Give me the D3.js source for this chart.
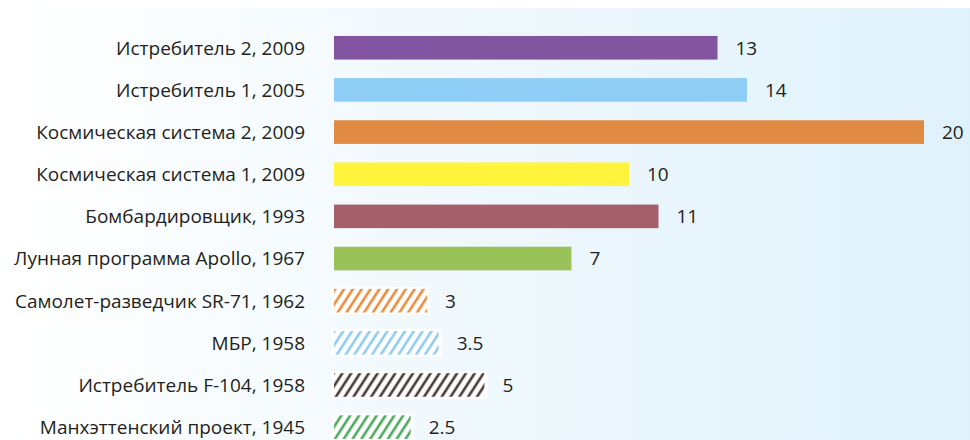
<!DOCTYPE html>
<html>
<head>
<meta charset="utf-8">
<script src="https://cdn.jsdelivr.net/npm/d3@7"></script>
<style>
  html, body { margin: 0; padding: 0; background: #fff; }
  svg { display: block; }
</style>
</head>
<body>
<div id="chart"></div>
<script>
// data, top to bottom
var categories = ['Истребитель 2, 2009', 'Истребитель 1, 2005', 'Космическая система 2, 2009',
                  'Космическая система 1, 2009', 'Бомбардировщик, 1993', 'Лунная программа Apollo, 1967',
                  'Самолет-разведчик SR-71, 1962', 'МБР, 1958', 'Истребитель F-104, 1958', 'Манхэттенский проект, 1945'];
var values = [13, 14, 20, 10, 11, 8.05, 3.15, 3.55, 5.1, 2.6];   // bar lengths as drawn
var valueLabels = ['13', '14', '20', '10', '11', '7', '3', '3.5', '5', '2.5'];
var hatched = [false, false, false, false, false, false, true, true, true, true];
var colors = ['#8354a0', '#8ecdf5', '#e08a43', '#fff33b', '#a45f6b', '#99c359',
              '#e98b3b', '#8ecbf0', '#4b3a34', '#4aa95a'];

var width = 970, height = 440;
var x0 = 334;

var svg = d3.select('#chart').append('svg')
    .attr('width', width)
    .attr('height', height);

var defs = svg.append('defs');

var grad = defs.append('linearGradient')
    .attr('id', 'bg')
    .attr('x1', '0%').attr('x2', '100%').attr('y1', '0%').attr('y2', '0%');
grad.append('stop').attr('offset', '0%').attr('stop-color', '#ffffff');
grad.append('stop').attr('offset', '100%').attr('stop-color', '#dff1fb');

svg.append('rect')
    .attr('x', 0).attr('y', 8)
    .attr('width', width).attr('height', height - 8)
    .attr('fill', 'url(#bg)');

// hatch patterns for the old programs
categories.forEach(function(c, i) {
    if (!hatched[i]) return;
    var p = defs.append('pattern')
        .attr('id', 'hatch' + i)
        .attr('patternUnits', 'userSpaceOnUse')
        .attr('width', 7.4).attr('height', 10)
        .attr('patternTransform', 'rotate(33)');
    p.append('rect').attr('width', 7.4).attr('height', 10).attr('fill', '#fff');
    p.append('line')
        .attr('x1', 2).attr('x2', 2).attr('y1', 0).attr('y2', 10)
        .attr('stroke', colors[i])
        .attr('stroke-width', 2.6);
});

var xScale = d3.scaleLinear()
    .domain([0, 20])
    .range([x0, 924]);

var yScale = d3.scaleBand()
    .domain(categories)
    .range([26.7, 448.2])
    .paddingInner(0.44)
    .paddingOuter(0.22);

var rows = svg.selectAll('.row')
    .data(categories)
    .enter().append('g')
    .attr('class', 'row');

// white box behind hatched bars
rows.filter(function(d, i) { return hatched[i]; })
    .append('rect')
    .attr('x', x0 - 3)
    .attr('y', function(d) { return yScale(d) - 2; })
    .attr('width', function(d) { return xScale(values[categories.indexOf(d)]) - x0 + 6; })
    .attr('height', yScale.bandwidth() + 4)
    .attr('fill', '#fff');

rows.append('rect')
    .attr('x', x0)
    .attr('y', function(d) { return yScale(d); })
    .attr('width', function(d, i) { return xScale(values[i]) - x0; })
    .attr('height', yScale.bandwidth())
    .attr('fill', function(d, i) { return hatched[i] ? 'url(#hatch' + i + ')' : colors[i]; });

rows.append('text')
    .attr('x', 305)
    .attr('y', function(d) { return yScale(d) + yScale.bandwidth() / 2; })
    .attr('dy', '0.36em')
    .attr('text-anchor', 'end')
    .attr('font-family', '"Open Sans", sans-serif')
    .attr('font-size', 19)
    .attr('fill', '#231f20')
    .text(function(d) { return d; });

rows.append('text')
    .attr('x', function(d, i) { return xScale(values[i]) + 18; })
    .attr('y', function(d) { return yScale(d) + yScale.bandwidth() / 2; })
    .attr('dy', '0.36em')
    .attr('font-family', '"Open Sans", sans-serif')
    .attr('font-size', 19)
    .attr('fill', '#231f20')
    .text(function(d, i) { return valueLabels[i]; });
</script>
</body>
</html>
